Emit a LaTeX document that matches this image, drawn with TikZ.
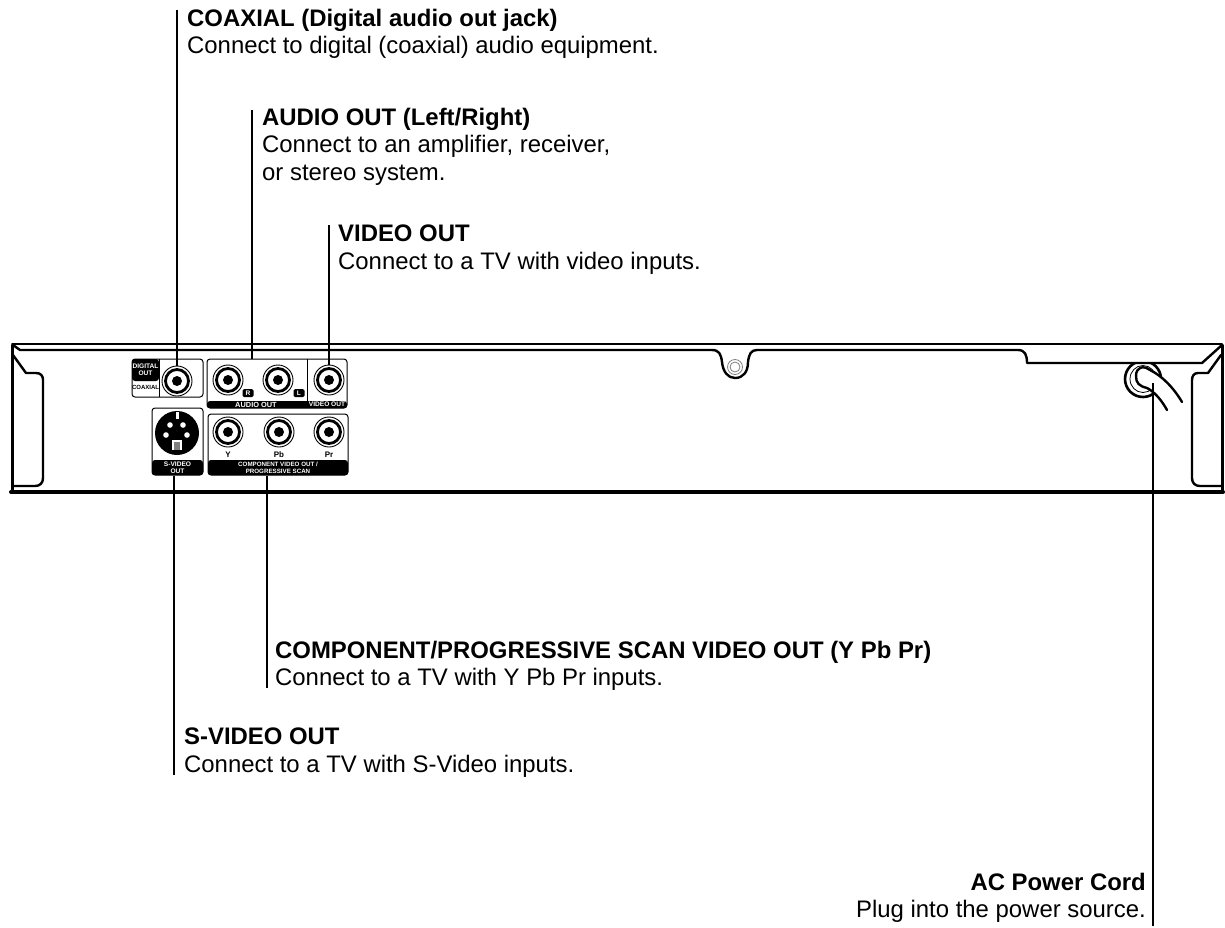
\documentclass[tikz,border=0pt]{standalone}
\usepackage{fontspec}
\setmainfont{Liberation Sans}
\usetikzlibrary{positioning}
\newcommand{\panelfont}{\fontsize{6.6}{7.4}\selectfont\bfseries}
\tikzset{
    leader/.style={line width=1.4pt},
    chassis/.style={line width=2.4pt, line join=round, line cap=round},
    callout/.style={anchor=north west, inner sep=0pt, align=left, font=\fontsize{23.9}{27.4}\selectfont},
    jackbox/.style={draw, line width=1pt, rounded corners=3pt, inner sep=0pt},
    strip/.style={fill=black, rounded corners=3pt},
    striptext/.style={text=white, inner sep=0pt, align=center, font=\panelfont},
    jack/.style={circle, draw, line width=0.9pt, minimum size=30pt, inner sep=0pt, fill=white,
        path picture={
            \draw[line width=2.8pt] (path picture bounding box.center) circle (11.5pt);
            \fill[black] (path picture bounding box.center) circle (5pt);
        }},
}
\begin{document}
\begin{tikzpicture}[x=1pt, y=-1pt]
    \useasboundingbox (0,0) rectangle (1225,927);

    % callouts
    \node[callout] (coaxlabel) at (187,9) {\textbf{COAXIAL (Digital audio out jack)}\\Connect to digital (coaxial) audio equipment.};
    \node[callout] (audiolabel) at (262,108) {\textbf{AUDIO OUT (Left/Right)}\\Connect to an amplifier, receiver,\\or stereo system.};
    \node[callout] (videolabel) at (338,225) {\textbf{VIDEO OUT}\\Connect to a TV with video inputs.};
    \node[callout] (complabel) at (275,641) {\textbf{COMPONENT/PROGRESSIVE SCAN VIDEO OUT (Y Pb Pr)}\\Connect to a TV with Y Pb Pr inputs.};
    \node[callout] (svidlabel) at (184,728) {\textbf{S-VIDEO OUT}\\Connect to a TV with S-Video inputs.};
    \node[callout, anchor=north east, align=right] (powerlabel) at (1146,873) {\textbf{AC Power Cord}\\Plug into the power source.};

    % power cord ring, under the chassis line
    \draw[line width=2.6pt] (1143,379) ellipse (18pt and 18pt);
    \draw[line width=0.8pt] (1143,379) ellipse (13pt and 13.5pt);
    \fill[white] (1120,345) rectangle (1170,362);

    % chassis outline
    \draw[chassis, line width=1.8pt] (12,344) -- (1222,344);
    \draw[chassis, line width=3pt] (12,345) -- (12,492);
    \draw[chassis, line width=3pt] (1222,345) -- (1222,492);
    \draw[chassis, line width=4pt] (11,492) -- (1223,492);
    \draw[chassis] (13,345) -- (20,350) -- (712,350)
        .. controls (719,350) and (721,354) .. (722,362)
        .. controls (723,372) and (728,378) .. (735,378)
        .. controls (743,378) and (748,372) .. (748,362)
        .. controls (749,354) and (751,350) .. (757,350)
        -- (1018,350) .. controls (1025,350) and (1027,355) .. (1027,363)
        -- (1202,363) -- (1222,345);

    % end pieces
    \draw[chassis] (13,355) -- (26,373) -- (36,373) .. controls (41,373) and (43,376) .. (43,380)
        -- (43,478) .. controls (43,483) and (40,486) .. (35,486) -- (13,486);
    \draw[chassis] (1221,355) -- (1208,373) -- (1198,373) .. controls (1194,373) and (1192,376) .. (1192,380)
        -- (1192,478) .. controls (1192,483) and (1195,486) .. (1200,486) -- (1221,486);

    % screw hole
    \draw[gray, line width=0.8pt] (735,367) circle (7.5pt);
    \draw[gray, line width=0.8pt] (735,367) circle (5pt);

    % panel boxes
    \node[jackbox, minimum width=71pt, minimum height=38pt] (coaxbox) at (167.5,378) {};
    \node[jackbox, minimum width=140pt, minimum height=49pt] (audiobox) at (277,383.5) {};
    \node[jackbox, minimum width=51pt, minimum height=67pt] (svidbox) at (177.5,441.5) {};
    \node[jackbox, minimum width=140pt, minimum height=61pt] (compbox) at (278,444.5) {};

    % black strips
    \fill[strip] (132,381) -- (132,359) -- (159,359) -- (159,381) -- cycle;
    \draw[line width=1pt] (159,359) -- (159,397);
    \node[striptext] (digitaltext) at (145.5,370) {DIGITAL\\OUT};
    \node[inner sep=0pt, font=\fontsize{6}{7}\selectfont\bfseries] (coaxialtext) at (145.5,387) {COAXIAL};
    \fill[strip] (207,401) rectangle (347,408);
    \draw[line width=1pt] (307,359) -- (307,408);
    \node[striptext, font=\fontsize{7.4}{8}\selectfont\bfseries] (audiotext) at (256,404.5) {AUDIO OUT};
    \node[striptext] (videotext) at (327,404.5) {VIDEO OUT};
    \fill[strip] (152,460) -- (203,460) -- (203,475) -- (152,475) -- cycle;
    \node[striptext] (svidtext) at (177.5,467.5) {S-VIDEO\\OUT};
    \fill[strip] (208,460) -- (348,460) -- (348,475) -- (208,475) -- cycle;
    \node[striptext, font=\fontsize{6.2}{7.4}\selectfont\bfseries] (comptext) at (278,467.5) {COMPONENT VIDEO OUT /\\PROGRESSIVE SCAN};
    \foreach \tagname/\tagx/\tagtext in {rtag/248/R, ltag/299/L}
        \node[fill=black, rounded corners=1.5pt, minimum width=11pt, minimum height=8pt, striptext] (\tagname) at (\tagx,393) {\tagtext};
    \foreach \capname/\capx/\captext in {ycap/228/Y, pbcap/279/Pb, prcap/329/Pr}
        \node[inner sep=0pt, font=\fontsize{8}{9}\selectfont\bfseries] (\capname) at (\capx,455) {\captext};

    % jacks
    \foreach \jackname/\jackx/\jacky in {coaxjack/177/381, rjack/228/380, ljack/278/380, videojack/329/380, yjack/228/432, pbjack/279/432, prjack/329/432}
        \node[jack] (\jackname) at (\jackx,\jacky) {};

    % s-video socket
    \node[circle, fill=black, minimum size=44pt, inner sep=0pt] (svidjack) at (177,433) {};
    \foreach \pinx/\piny in {-7/-8, 6/-8, -11/2, 10/2}
        \fill[white] (177+\pinx,433+\piny) circle (2.8pt);
    \fill[white] (175.5,412) rectangle (178.5,419);
    \fill[white] (172,440) rectangle (182,450);
    \fill[gray] (174,442) rectangle (180,450);

    % power cord
    \filldraw[fill=white, draw=white, line width=0.1pt] (1182,402) .. controls (1173,387) and (1162,376) .. (1150,370)
        .. controls (1143,365) and (1136,367) .. (1136,376)
        .. controls (1136,383) and (1139,386) .. (1147,388)
        .. controls (1155,392) and (1162,401) .. (1167,410) -- cycle;
    \draw[line width=2.4pt, line cap=round] (1182,402) .. controls (1173,387) and (1162,376) .. (1150,370)
        .. controls (1143,365) and (1136,367) .. (1136,376)
        .. controls (1136,383) and (1139,386) .. (1147,388)
        .. controls (1155,392) and (1162,401) .. (1167,410);

    % leaders
    \coordinate (coaxtop) at (177,10);
    \coordinate (audiotop) at (252,110);
    \coordinate (videotop) at (329,225);
    \coordinate (svidend) at (174,775);
    \coordinate (compend) at (267,688);
    \coordinate (powerend) at (1153,926);
    \coordinate (cordpoint) at (1153,383);
    \draw[leader] (coaxtop) -- (coaxjack.north);
    \draw[leader] (audiotop) -- (audiotop |- audiobox.north);
    \draw[leader] (videotop) -- (videojack.north);
    \draw[leader] (svidend) -- (svidend |- svidbox.south);
    \draw[leader] (compend) -- (compend |- compbox.south);
    \draw[leader] (powerend) -- (cordpoint);
\end{tikzpicture}
\end{document}
